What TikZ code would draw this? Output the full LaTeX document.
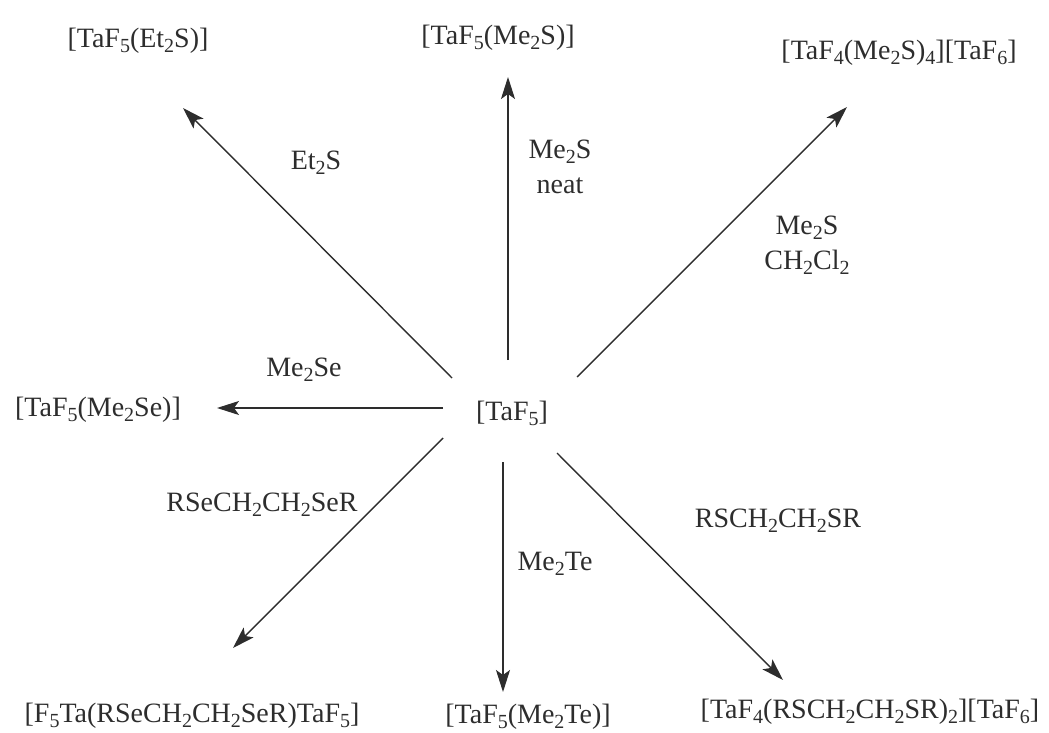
\documentclass[tikz,border=0pt]{standalone}
\usepackage{fontspec}
\setmainfont{Liberation Serif}
\usetikzlibrary{arrows.meta}
\definecolor{ink}{RGB}{45,45,45}
\newcommand\chsub[1]{\raisebox{-0.4ex}{\fontsize{10}{10}\selectfont #1}}
\tikzset{
  >={Stealth[length=11pt,width=7pt,inset=2.5pt]},
  compound/.style={inner sep=0pt,font=\fontsize{14}{17.5}\selectfont,text=ink},
  reagent/.style={inner sep=0pt,font=\fontsize{14}{17.5}\selectfont,text=ink,align=center},
  flow/.style={->,draw=ink,line width=0.7pt},
}
\begin{document}
\begin{tikzpicture}[x=0.5pt,y=-0.5pt]
  \useasboundingbox (0,0) rectangle (1049,733);
  % starting material
  \node[compound] (start) at (512,413) {[TaF\chsub{5}]};
  % products
  \node[compound] (et2s) at (138,41) {[TaF\chsub{5}(Et\chsub{2}S)]};
  \node[compound] (me2s) at (498,38) {[TaF\chsub{5}(Me\chsub{2}S)]};
  \node[compound] (ionic) at (899,53) {[TaF\chsub{4}(Me\chsub{2}S)\chsub{4}][TaF\chsub{6}]};
  \node[compound] (me2se) at (98,410) {[TaF\chsub{5}(Me\chsub{2}Se)]};
  \node[compound] (bridged) at (192,716) {[F\chsub{5}Ta(RSeCH\chsub{2}CH\chsub{2}SeR)TaF\chsub{5}]};
  \node[compound] (me2te) at (528,717) {[TaF\chsub{5}(Me\chsub{2}Te)]};
  \node[compound] (chelate) at (870,712) {[TaF\chsub{4}(RSCH\chsub{2}CH\chsub{2}SR)\chsub{2}][TaF\chsub{6}]};
  % reagents
  \node[reagent] (r1) at (316,163) {Et\chsub{2}S};
  \node[reagent] (r2) at (560,167) {Me\chsub{2}S\\neat};
  \node[reagent] (r3) at (807,245) {Me\chsub{2}S\\CH\chsub{2}Cl\chsub{2}};
  \node[reagent] (r4) at (304,370) {Me\chsub{2}Se};
  \node[reagent] (r5) at (262,505) {RSeCH\chsub{2}CH\chsub{2}SeR};
  \node[reagent] (r6) at (555,564) {Me\chsub{2}Te};
  \node[reagent] (r7) at (778,521) {RSCH\chsub{2}CH\chsub{2}SR};
  % arrow ends
  \coordinate (s1) at (452,378); \coordinate (t1) at (183,108);
  \coordinate (s2) at (508,360); \coordinate (t2) at (508,77);
  \coordinate (s3) at (577,377); \coordinate (t3) at (847,107);
  \coordinate (s4) at (443,408); \coordinate (t4) at (217,408);
  \coordinate (s5) at (443,438); \coordinate (t5) at (233,648);
  \coordinate (s6) at (503,462); \coordinate (t6) at (503,692);
  \coordinate (s7) at (557,453); \coordinate (t7) at (783,680);
  \foreach \i in {1,...,7}
    \draw[flow] (s\i) -- (t\i);
\end{tikzpicture}
\end{document}
